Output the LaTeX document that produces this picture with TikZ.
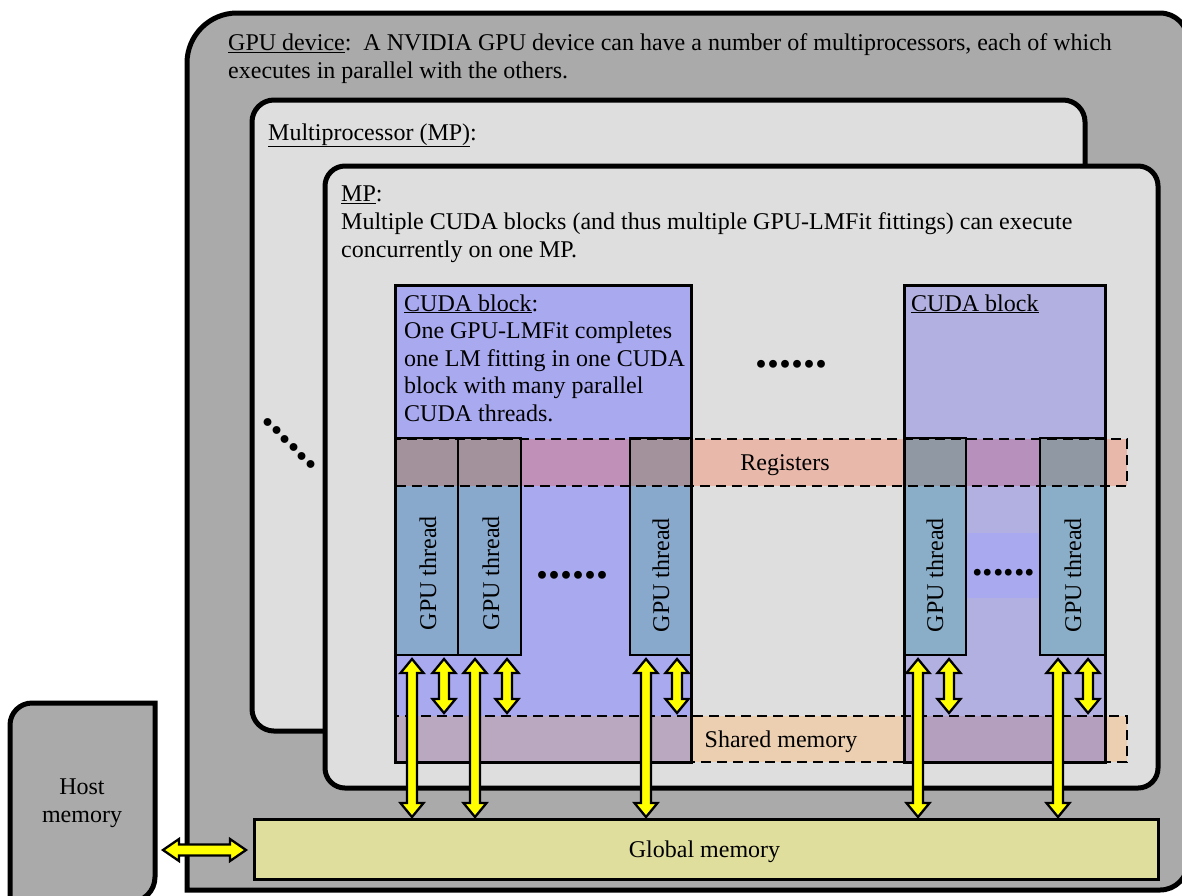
\documentclass[tikz,border=0pt]{standalone}
\usepackage{fontspec}
\setmainfont{Liberation Serif}
\definecolor{gpugray}{HTML}{AAAAAA}
\definecolor{mpgray}{HTML}{DEDEDE}
\definecolor{blockA}{HTML}{A9A9F0}
\definecolor{blockB}{HTML}{B2B0E0}
\definecolor{thrA}{HTML}{88A8CC}
\definecolor{thrB}{HTML}{8AAEC8}
\definecolor{regOut}{HTML}{E8B8AA}
\definecolor{regA}{HTML}{C090B8}
\definecolor{regB}{HTML}{B890BC}
\definecolor{regThrA}{HTML}{A3929B}
\definecolor{regThrB}{HTML}{9098A4}
\definecolor{shOut}{HTML}{ECCEB0}
\definecolor{shA}{HTML}{BAA8C0}
\definecolor{shB}{HTML}{B4A0BE}
\definecolor{globc}{HTML}{E0DE9C}
\definecolor{arrY}{HTML}{FFFF00}
\newcommand\yarr[3]{\draw[yarrowshape] (#1,#2) -- (#1+11.5,#2+14) -- (#1+5,#2+14) -- (#1+5,#3-14) -- (#1+11.5,#3-14) -- (#1,#3) -- (#1-11.5,#3-14) -- (#1-5,#3-14) -- (#1-5,#2+14) -- (#1-11.5,#2+14) -- cycle;}
\begin{document}
\begin{tikzpicture}[x=1pt,y=-1pt,
  every node/.style={inner sep=0pt, font=\fontsize{24}{28}\selectfont},
  bigbox/.style={draw=black, line width=5pt},
  blockborder/.style={draw=black, line width=3pt},
  thrborder/.style={draw=black, line width=2.2pt},
  bandline/.style={draw=black, line width=2.5pt, dash pattern=on 10pt off 6pt},
  yarrowshape/.style={draw=black, line width=2.3pt, fill=arrY, line join=miter},
  dots/.style={font=\fontsize{48}{48}\selectfont\bfseries},
  threadlabel/.style={rotate=90}]
\path[use as bounding box, clip] (0,0) rectangle (1182,895);
% GPU device
\draw[bigbox, fill=gpugray] (187,450) {[rounded corners=50] -- (187,13) -- (700,13)} {[rounded corners=28] -- (1188,13) -- (1188,890) -- (700,890)} -- (187,890) -- cycle;
% Host memory
\draw[bigbox, fill=gpugray] (10,800) {[rounded corners=22] -- (10,703) -- (80,703)} -- (155,703) {[rounded corners=25] -- (155,902) -- (80,902)} -- (10,902) -- cycle;
% MP boxes
\draw[bigbox, fill=mpgray, rounded corners=22] (252,100) rectangle (1085,731);
\draw[bigbox, fill=mpgray, rounded corners=20] (325,166) rectangle (1158,788);
% CUDA block fills
\fill[blockA] (395,285) rectangle (691,762);
\fill[blockB] (904,285) rectangle (1105,762);
\fill[blockA] (966,533) rectangle (1040,598);
% thread fills
\fill[thrA] (395,438) rectangle (458,655);
\fill[thrA] (458,438) rectangle (521,655);
\fill[thrA] (630,438) rectangle (691,655);
\fill[thrB] (904,438) rectangle (966,655);
\fill[thrB] (1040,438) rectangle (1105,655);
% registers band fills
\fill[regOut] (395,439) rectangle (1127,486);
\fill[regA] (395,439) rectangle (691,486);
\fill[regB] (904,439) rectangle (1105,486);
\fill[regThrA] (395,439) rectangle (521,486);
\fill[regThrA] (630,439) rectangle (691,486);
\fill[regThrB] (904,439) rectangle (966,486);
\fill[regThrB] (1040,439) rectangle (1105,486);
% shared memory band fills
\fill[shOut] (395,716) rectangle (1127,762);
\fill[shA] (395,716) rectangle (691,762);
\fill[shB] (904,716) rectangle (1105,762);
% borders
\draw[blockborder] (395,285) rectangle (691,762);
\draw[blockborder] (904,285) rectangle (1105,762);
\draw[thrborder] (395,438) rectangle (458,655);
\draw[thrborder] (458,438) rectangle (521,655);
\draw[thrborder] (630,438) rectangle (691,655);
\draw[thrborder] (904,438) rectangle (966,655);
\draw[thrborder] (1040,438) rectangle (1105,655);
\draw[bandline] (395,439) rectangle (1127,486);
\draw[bandline] (395,716) rectangle (1127,762);
% global memory
\node[draw=black, line width=2.5pt, fill=globc, minimum width=904pt, minimum height=60pt, anchor=north west] (glob) at (253,818) {};
\node[anchor=base] at (704.5,857) {Global memory};
% arrows
\yarr{412}{659}{817}
\yarr{475}{659}{817}
\yarr{646}{659}{817}
\yarr{918}{659}{817}
\yarr{1058}{659}{817}
\yarr{444}{659}{713}
\yarr{507}{659}{713}
\yarr{677}{659}{713}
\yarr{949}{659}{713}
\yarr{1088}{659}{713}
\draw[yarrowshape] (163,850) -- (179,839) -- (179,844.5) -- (230,844.5) -- (230,839) -- (246,850) -- (230,861) -- (230,855.5) -- (179,855.5) -- (179,861) -- cycle;
% texts
\node[anchor=north west, align=left] at (228,33.6) {\underline{GPU device}:\ \ A NVIDIA GPU device can have a number of multiprocessors, each of which\\executes in parallel with the others.};
\node[anchor=north west] at (268,123.3) {\underline{Multiprocessor (MP)}:};
\node[anchor=north west, align=left] at (341,185.6) {\underline{MP}:\\Multiple CUDA blocks (and thus multiple GPU-LMFit fittings) can execute\\concurrently on one MP.};
\node[anchor=north west, align=left, font=\fontsize{24}{27.5}\selectfont] at (404,294.2) {\underline{CUDA block}:\\One GPU-LMFit completes\\one LM fitting in one CUDA\\block with many parallel\\CUDA threads.};
\node[anchor=north west] at (911,294.2) {\underline{CUDA block}};
\node[anchor=base] at (785,470) {Registers};
\node[anchor=base] at (781,747) {Shared memory};
\node[anchor=north, align=center] at (82,779) {Host\\memory};
\node[threadlabel] at (428,573) {GPU thread};
\node[threadlabel] at (491,573) {GPU thread};
\node[threadlabel] at (661,575) {GPU thread};
\node[threadlabel] at (935,575) {GPU thread};
\node[threadlabel] at (1073,575) {GPU thread};
% ellipses
\node[dots] at (791.5,364) {......};
\node[dots] at (572,575) {......};
\node[dots, font=\fontsize{42}{42}\selectfont\bfseries] at (1003.5,573) {......};
\node[dots, rotate=-45] at (289.5,443.5) {......};
\end{tikzpicture}
\end{document}
